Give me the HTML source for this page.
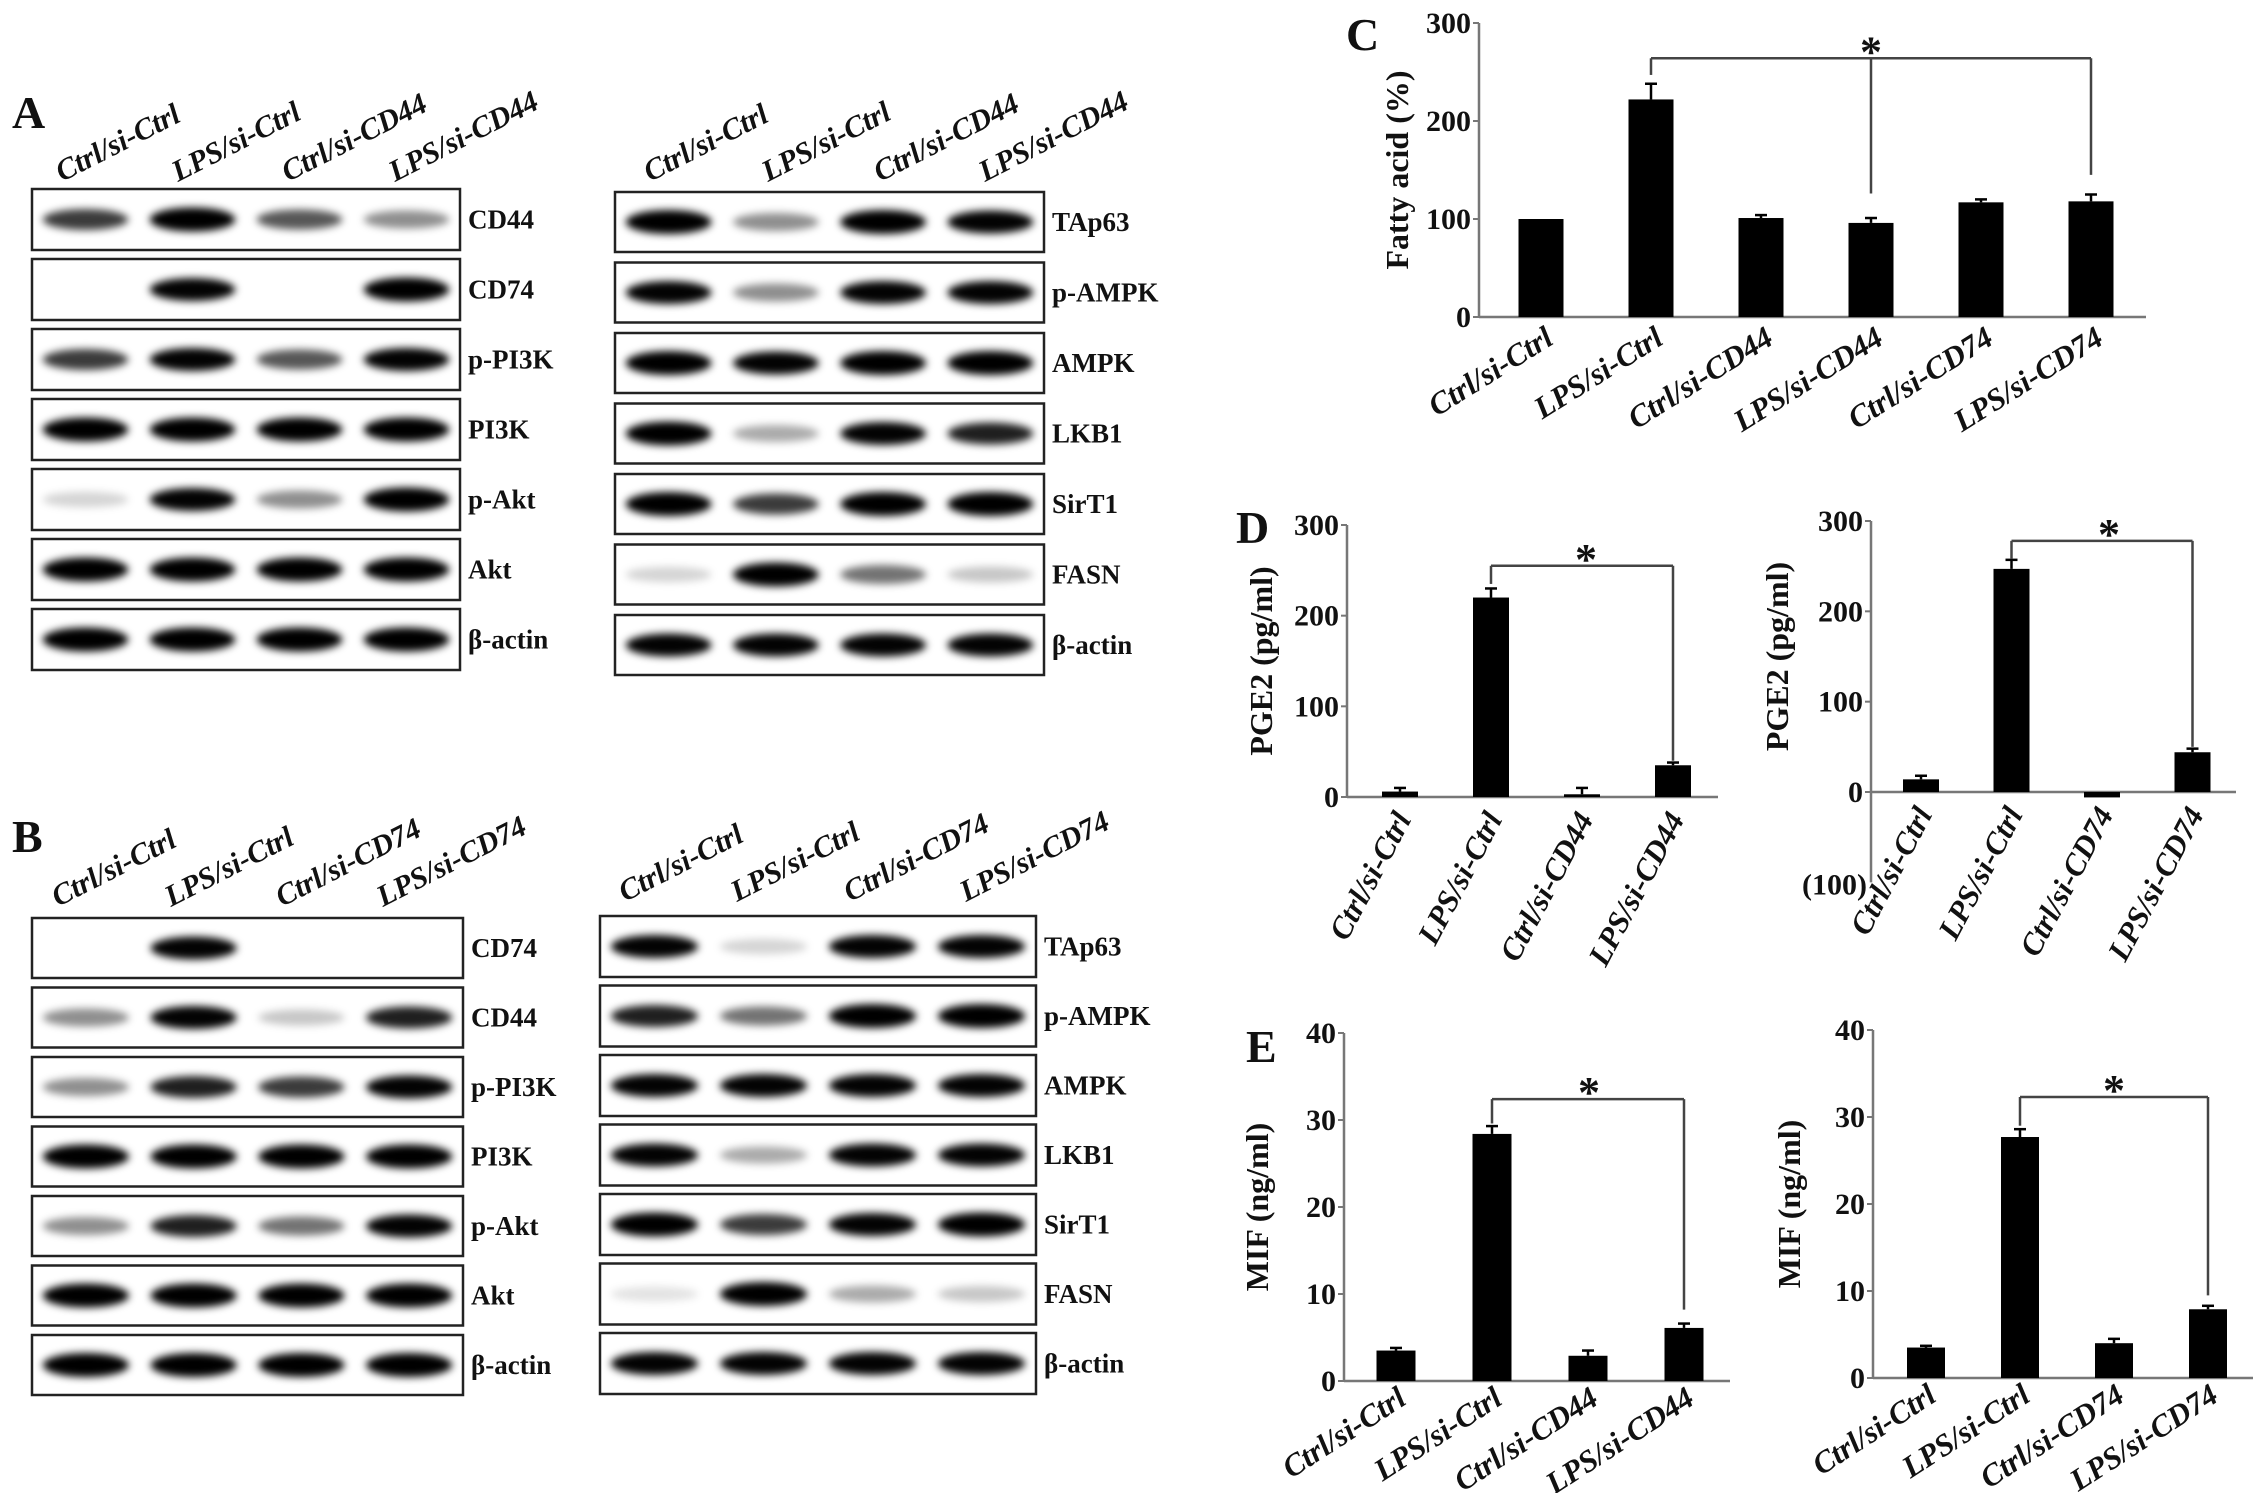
<!DOCTYPE html>
<html><head><meta charset="utf-8"><style>
html,body{margin:0;padding:0;background:#fff;overflow:hidden}
svg{display:block}
text{font-family:"Liberation Serif",serif;font-weight:bold;fill:#111}
</style></head><body>
<svg id="fig" width="2268" height="1493" viewBox="0 0 2268 1493" xmlns="http://www.w3.org/2000/svg">
<defs><filter id="blur" x="-20%" y="-100%" width="140%" height="300%"><feGaussianBlur stdDeviation="4"/></filter></defs>
<g id="blots"></g>
<g id="charts"></g>
<text x="12" y="128" font-size="46">A</text>
<text x="12" y="852" font-size="46">B</text>
<text x="1346" y="50" font-size="46">C</text>
<text x="1236" y="543" font-size="46">D</text>
<text x="1246" y="1062" font-size="46">E</text>
</svg>
<script>
const NS='http://www.w3.org/2000/svg';
function mk(parent,tag,attrs,txt){const e=document.createElementNS(NS,tag);for(const k in attrs)e.setAttribute(k,attrs[k]);if(txt!==undefined)e.textContent=txt;parent.appendChild(e);return e;}

// ---------- Blot data ----------
const laneA=['Ctrl/si-Ctrl','LPS/si-Ctrl','Ctrl/si-CD44','LPS/si-CD44'];
const laneB=['Ctrl/si-Ctrl','LPS/si-Ctrl','Ctrl/si-CD74','LPS/si-CD74'];
const protAL=['CD44','CD74','p-PI3K','PI3K','p-Akt','Akt','β-actin'];
const intAL=[[0.7,1,0.6,0.4],[0,0.9,0,1],[0.7,0.9,0.6,0.9],[1,1,1,1],[0.15,0.9,0.4,1],[1,1,1,1],[1,1,1,1]];
const protAR=['TAp63','p-AMPK','AMPK','LKB1','SirT1','FASN','β-actin'];
const intAR=[[1,0.4,1,0.9],[0.9,0.4,0.9,0.9],[1,0.9,1,1],[1,0.3,0.9,0.8],[1,0.7,1,1],[0.15,1,0.5,0.2],[0.9,0.9,0.9,0.9]];
const protBL=['CD74','CD44','p-PI3K','PI3K','p-Akt','Akt','β-actin'];
const intBL=[[0,0.9,0,0],[0.4,0.9,0.2,0.8],[0.4,0.8,0.7,0.9],[1,1,1,1],[0.4,0.8,0.5,0.9],[1,1,1,1],[1,1,1,1]];
const protBR=['TAp63','p-AMPK','AMPK','LKB1','SirT1','FASN','β-actin'];
const intBR=[[0.9,0.15,0.9,0.9],[0.8,0.5,1,1],[0.9,0.9,0.9,0.9],[0.9,0.3,0.9,0.9],[1,0.7,0.9,1],[0.1,1,0.3,0.2],[0.9,0.9,0.9,0.9]];

function blot(x,w,top,step,h,prots,ints,lanes,lx,ly,name){
  const g=document.getElementById('blots');
  const grp=mk(g,'g',{});
  
  
  lanes.forEach((l,i)=>{
    const t=mk(grp,'text',{x:lx[i],y:ly,'font-size':30,'font-style':'italic',transform:`rotate(-27 ${lx[i]} ${ly})`},l);
    
    
  });
  prots.forEach((p,r)=>{
    const y=top+r*step;
    const row=mk(grp,'g',{});
    
    
    ints[r].forEach((v,i)=>{
      if(v<=0)return;
      const cx=x+w*(0.125+0.25*i);
      mk(row,'ellipse',{cx:cx,cy:y+h/2,rx:w*0.1,ry:7+5*v,fill:'#000','fill-opacity':Math.min(1,v*1.1),filter:'url(#blur)'});
    });
    mk(row,'rect',{x:x,y:y,width:w,height:h,fill:'none',stroke:'#222','stroke-width':2.5});
    const t=mk(row,'text',{x:x+w+8,y:y+h/2+9,'font-size':27},p);
    
    
  });
}
blot(32,428,189,70,61,protAL,intAL,laneA,[62,178,288,395],182,'blot-a-left');
blot(615,429,192,70.5,60,protAR,intAR,laneA,[650,768,880,985],182,'blot-a-right');
blot(32,431,918,69.5,60,protBL,intBL,laneB,[58,171,282,383],907,'blot-b-left');
blot(600,436,916,69.5,61,protBR,intBR,laneB,[625,737,850,966],902,'blot-b-right');

// ---------- Chart data ----------
const catC=['Ctrl/si-Ctrl','LPS/si-Ctrl','Ctrl/si-CD44','LPS/si-CD44','Ctrl/si-CD74','LPS/si-CD74'];
const valC=[100,222,101,96,117,118];
const errC=[0,16,3,5,3,7];
const ticksC=[0,100,200,300];
const catD1=['Ctrl/si-Ctrl','LPS/si-Ctrl','Ctrl/si-CD44','LPS/si-CD44'];
const valD1=[6,220,3,35];
const errD1=[4,10,7,3];
const ticksD1=[0,100,200,300];
const catD2=['Ctrl/si-Ctrl','LPS/si-Ctrl','Ctrl/si-CD74','LPS/si-CD74'];
const valD2=[14,247,-6,44];
const errD2=[4,10,0,4];
const ticksD2=[0,100,200,300];
const tickLabD2=['(100)'];
const catE1=['Ctrl/si-Ctrl','LPS/si-Ctrl','Ctrl/si-CD44','LPS/si-CD44'];
const valE1=[3.5,28.4,2.9,6.1];
const errE1=[0.3,0.9,0.6,0.5];
const ticksE1=[0,10,20,30,40];
const catE2=['Ctrl/si-Ctrl','LPS/si-Ctrl','Ctrl/si-CD74','LPS/si-CD74'];
const valE2=[3.5,27.7,4.0,7.9];
const errE2=[0.2,0.9,0.5,0.4];
const ticksE2=[0,10,20,30,40];

function chart(o){
  const g=mk(document.getElementById('charts'),'g',{});
  
  
  const y=v=>o.y0-(v/o.max)*(o.y0-o.yTop);
  const x=i=>o.x0+o.first+i*o.step;
  const axBot=o.axMin!==undefined?y(o.axMin):o.y0;
  const ya=mk(g,'line',{x1:o.x0,y1:o.yTop,x2:o.x0,y2:axBot,stroke:'#777','stroke-width':2.5});
  
  const xa=mk(g,'line',{x1:o.x0,y1:o.y0,x2:o.xEnd,y2:o.y0,stroke:'#777','stroke-width':2.5});
  
  o.ticks.forEach(t=>{
    mk(g,'line',{x1:o.x0-6,y1:y(t),x2:o.x0,y2:y(t),stroke:'#777','stroke-width':2});
    const tl=mk(g,'text',{x:o.x0-8,y:y(t)+10,'font-size':30,'text-anchor':'end'},String(t));
    
  });
  if(o.negLab){const tl=mk(g,'text',{x:o.x0-4,y:y(o.axMin)+12,'font-size':30,'text-anchor':'end'},o.negLab[0]);
    }
  o.vals.forEach((v,i)=>{
    const cx=x(i);
    const top=Math.min(y(v),o.y0),bot=Math.max(y(v),o.y0);
    const b=mk(g,'rect',{x:cx-o.bw/2,y:top,width:o.bw,height:Math.max(bot-top,1),fill:'#000'});
    
    
    if(o.errs[i]>0){
      const ey=y(v+o.errs[i]);
      mk(g,'line',{x1:cx,y1:ey,x2:cx,y2:y(v),stroke:'#000','stroke-width':2.5});
      mk(g,'line',{x1:cx-6,y1:ey,x2:cx+6,y2:ey,stroke:'#000','stroke-width':2.5});
    }
    const lx=cx+o.lblDx, ly=o.y0+o.lblDy;
    const t=mk(g,'text',{x:lx,y:ly,'font-size':31,'font-style':'italic','text-anchor':'end',transform:`rotate(${o.ang} ${lx} ${ly})`},o.cats[i]);
    
  });
  const by=y(o.br.v);
  const br=mk(g,'g',{});
  
  const xs=o.br.drops.map(d=>x(d[0]));
  mk(br,'line',{x1:xs[0],y1:by,x2:xs[xs.length-1],y2:by,stroke:'#444','stroke-width':2.5});
  o.br.drops.forEach((d,k)=>mk(br,'line',{x1:xs[k],y1:by,x2:xs[k],y2:y(d[1]),stroke:'#444','stroke-width':2.5}));
  const st=mk(g,'text',{x:o.br.sx,y:by+8,'font-size':44,'text-anchor':'middle'},'*');
  
  const yt=(o.yTop+o.y0)/2;
  const tt=mk(g,'text',{x:o.titleX,y:yt,'font-size':32,'text-anchor':'middle',transform:`rotate(-90 ${o.titleX} ${yt})`},o.title);
  
}
chart({name:'chart-c-fatty-acid',cats:catC,vals:valC,errs:errC,ticks:ticksC,max:300,x0:1479,y0:317,yTop:23,xEnd:2146,first:62,step:110,bw:45,
  lblDx:14,lblDy:26,ang:-32,title:'Fatty acid (%)',titleX:1408,
  br:{v:264,drops:[[1,247],[3,126],[5,145]],sx:1871}});
chart({name:'chart-d-pge2-cd44',cats:catD1,vals:valD1,errs:errD1,ticks:ticksD1,max:300,x0:1347,y0:797,yTop:525,xEnd:1718,first:53,step:91,bw:36,
  lblDx:12,lblDy:22,ang:-62,title:'PGE2 (pg/ml)',titleX:1272,
  br:{v:255,drops:[[1,235],[3,40]],sx:1586}});
chart({name:'chart-d-pge2-cd74',cats:catD2,vals:valD2,errs:errD2,ticks:ticksD2,max:300,x0:1871,y0:792,yTop:521,xEnd:2236,first:50,step:90.5,bw:36,
  lblDx:12,lblDy:22,ang:-62,title:'PGE2 (pg/ml)',titleX:1788,axMin:-100,negLab:tickLabD2,
  br:{v:278,drops:[[1,258],[3,50]],sx:2109}});
chart({name:'chart-e-mif-cd44',cats:catE1,vals:valE1,errs:errE1,ticks:ticksE1,max:40,x0:1344,y0:1381,yTop:1033,xEnd:1730,first:52,step:96,bw:39,
  lblDx:12,lblDy:22,ang:-33,title:'MIF (ng/ml)',titleX:1268,
  br:{v:32.4,drops:[[1,29.6],[3,8.2]],sx:1589}});
chart({name:'chart-e-mif-cd74',cats:catE2,vals:valE2,errs:errE2,ticks:ticksE2,max:40,x0:1873,y0:1378,yTop:1030,xEnd:2253,first:53,step:94,bw:38,
  lblDx:12,lblDy:22,ang:-33,title:'MIF (ng/ml)',titleX:1800,
  br:{v:32.3,drops:[[1,29],[3,9.5]],sx:2114}});
</script>
</body></html>
